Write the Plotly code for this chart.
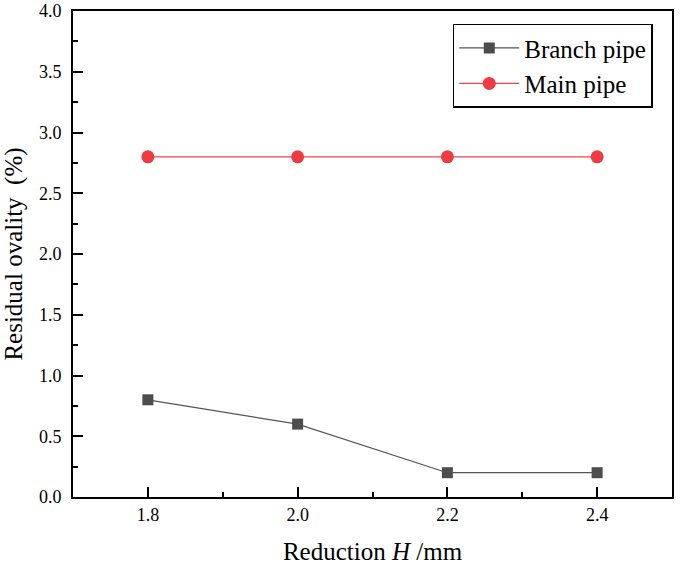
import plotly.graph_objects as go

reduction = [1.8, 2.0, 2.2, 2.4]
branch_pipe = [0.8, 0.6, 0.2, 0.2]
main_pipe = [2.8, 2.8, 2.8, 2.8]
x_ticks = [1.8, 2.0, 2.2, 2.4]
x_tick_labels = ["1.8", "2.0", "2.2", "2.4"]
y_ticks = [0.0, 0.5, 1.0, 1.5, 2.0, 2.5, 3.0, 3.5, 4.0]
y_tick_labels = ["0.0", "0.5", "1.0", "1.5", "2.0", "2.5", "3.0", "3.5", "4.0"]

font = "Liberation Serif"

fig = go.Figure()
fig.add_trace(go.Scatter(
    x=reduction, y=branch_pipe, name="Branch pipe", mode="lines+markers",
    line=dict(color="#555555", width=1.2),
    marker=dict(symbol="square", size=11, color="#4d4d4d"),
))
fig.add_trace(go.Scatter(
    x=reduction, y=main_pipe, name="Main pipe", mode="lines+markers",
    line=dict(color="#e8484c", width=1.2),
    marker=dict(symbol="circle", size=13, color="#ee3b40"),
))

fig.update_layout(
    width=685, height=583,
    margin=dict(l=73, r=13, t=11, b=86, autoexpand=False),
    paper_bgcolor="white", plot_bgcolor="white",
    font=dict(family=font, size=18, color="black"),
    showlegend=True,
    legend=dict(
        x=0.634, y=0.974, xanchor="left", yanchor="top",
        bordercolor="black", borderwidth=1.5, bgcolor="white",
        font=dict(family=font, size=25),
        tracegroupgap=0, itemwidth=60,
    ),
    xaxis=dict(
        range=[1.7, 2.5], tickvals=x_ticks, ticktext=x_tick_labels,
        ticks="inside", ticklen=10, tickwidth=2, tickcolor="black",
        minor=dict(ticks="inside", ticklen=5, tickwidth=2, tickcolor="black", dtick=0.1, tick0=1.7),
        showline=True, linecolor="black", linewidth=2, mirror=True,
        showgrid=False, zeroline=False, automargin=False,
        tickfont=dict(family=font, size=18),
        title=dict(text="Reduction <i>H</i> /mm", font=dict(family=font, size=25), standoff=19),
    ),
    yaxis=dict(
        range=[0, 4], tickvals=y_ticks, ticktext=y_tick_labels,
        ticks="inside", ticklen=10, tickwidth=2, tickcolor="black",
        minor=dict(ticks="inside", ticklen=5, tickwidth=2, tickcolor="black", dtick=0.25, tick0=0),
        showline=True, linecolor="black", linewidth=2, mirror=True,
        showgrid=False, zeroline=False, automargin=False,
        ticklabelstandoff=6,
        tickfont=dict(family=font, size=18),
        title=dict(text="Residual ovality \u00a0(%)", font=dict(family=font, size=25), standoff=10),
    ),
)

fig.write_html("out.html", config={"displayModeBar": False},
               post_script="document.body.style.margin='0';")
